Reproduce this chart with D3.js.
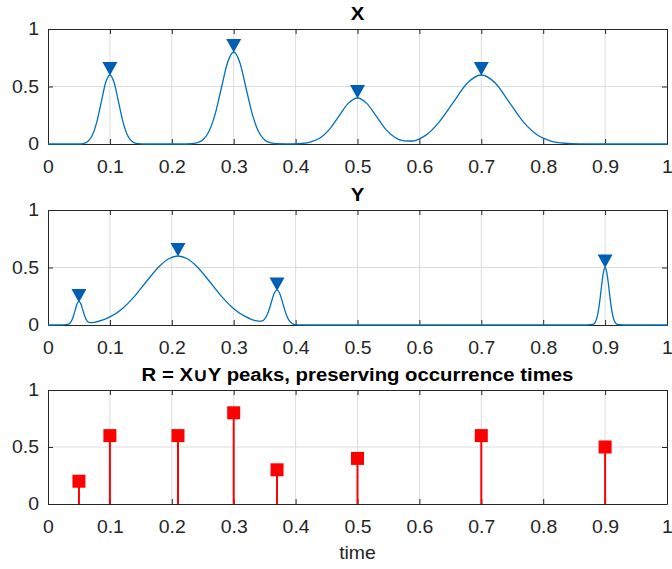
<!DOCTYPE html>
<html>
<head>
<meta charset="utf-8">
<script src="https://cdn.jsdelivr.net/npm/d3@7"></script>
<style>
  html, body { margin: 0; padding: 0; background: #fff; }
  svg { display: block; font-family: "Liberation Sans", Arial, Helvetica, sans-serif; }
</style>
</head>
<body>
<svg id="chart" width="672" height="569"></svg>
<script>
// ---------- data ----------
const xTickValues = [0, 0.1, 0.2, 0.3, 0.4, 0.5, 0.6, 0.7, 0.8, 0.9, 1];
const xTickLabels = ["0", "0.1", "0.2", "0.3", "0.4", "0.5", "0.6", "0.7", "0.8", "0.9", "1"];
const yTickValues = [0, 0.5, 1];
const yTickLabels = ["0", "0.5", "1"];

// signal X (time, amplitude)
const xTime = [0, 0.05, 0.058, 0.065, 0.072, 0.079, 0.086, 0.093, 0.1, 0.107, 0.114, 0.121, 0.128, 0.135, 0.142, 0.16,
  0.22, 0.23, 0.24, 0.25, 0.26, 0.27, 0.28, 0.29, 0.3, 0.31, 0.32, 0.33, 0.34, 0.35, 0.36, 0.37,
  0.385, 0.395, 0.41, 0.425, 0.44, 0.455, 0.47, 0.485, 0.5, 0.515, 0.53, 0.545, 0.56, 0.575, 0.59, 0.6, 0.61,
  0.6325, 0.655, 0.6775, 0.7, 0.7225, 0.745, 0.7675, 0.79, 0.8125, 0.835, 0.86, 0.9, 1];
const xValue = [0, 0, 0.005, 0.026, 0.081, 0.195, 0.364, 0.53, 0.6, 0.53, 0.364, 0.195, 0.081, 0.026, 0.005, 0,
  0, 0.002, 0.009, 0.035, 0.108, 0.26, 0.485, 0.706, 0.8, 0.706, 0.485, 0.26, 0.108, 0.035, 0.009, 0.002,
  0.001, 0.001, 0.0044, 0.018, 0.054, 0.13, 0.243, 0.353, 0.4, 0.353, 0.244, 0.132, 0.059, 0.028, 0.026, 0.045, 0.075,
  0.195, 0.364, 0.53, 0.6, 0.53, 0.364, 0.195, 0.081, 0.026, 0.0067, 0.001, 0, 0];

// signal Y (time, amplitude)
const yTime = [0, 0.025, 0.032, 0.038, 0.041, 0.044, 0.047, 0.05, 0.053, 0.056, 0.059, 0.062, 0.065, 0.068, 0.075,
  0.09, 0.1, 0.12, 0.14, 0.16, 0.18, 0.195, 0.21, 0.225, 0.24, 0.26, 0.28, 0.3, 0.32, 0.335,
  0.345, 0.35, 0.355, 0.36, 0.365, 0.37, 0.375, 0.38, 0.385, 0.39, 0.395, 0.4, 0.41, 0.43,
  0.86, 0.88, 0.885, 0.8875, 0.89, 0.8925, 0.895, 0.8975, 0.9, 0.9025, 0.905, 0.9075, 0.91, 0.9125, 0.915, 0.92, 0.94, 1];
const yValue = [0, 0.0014, 0.0055, 0.036, 0.076, 0.132, 0.184, 0.206, 0.186, 0.136, 0.082, 0.045, 0.026, 0.02, 0.0235,
  0.046, 0.07, 0.142, 0.251, 0.385, 0.511, 0.576, 0.6, 0.576, 0.511, 0.385, 0.251, 0.142, 0.07, 0.038,
  0.033, 0.051, 0.1, 0.183, 0.269, 0.306, 0.266, 0.176, 0.089, 0.035, 0.011, 0.003, 0.0005, 0,
  0, 0.0044, 0.035, 0.079, 0.153, 0.257, 0.372, 0.464, 0.5, 0.464, 0.372, 0.257, 0.153, 0.079, 0.035, 0.0044, 0, 0];

// detected peaks
const xPeakTime = [0.1, 0.3, 0.5, 0.7];
const xPeakValue = [0.6, 0.8, 0.4, 0.6];
const yPeakTime = [0.05, 0.21, 0.37, 0.9];
const yPeakValue = [0.2, 0.6, 0.3, 0.5];

// R = union of peaks
const rTime = [0.05, 0.1, 0.21, 0.3, 0.37, 0.5, 0.7, 0.9];
const rValue = [0.2, 0.6, 0.6, 0.8, 0.3, 0.4, 0.6, 0.5];

const titles = ["X", "Y", "R = X\u222AY peaks, preserving occurrence times"];
const xAxisLabel = "time";

// ---------- layout ----------
const svg = d3.select("#chart");
const left = 48, right = 667;
const panels = [
  { top: 29, bottom: 144 },
  { top: 210, bottom: 325 },
  { top: 390, bottom: 504 }
];
const axisColor = "#262626";
const gridColor = "#dcdcdc";
const lineColor = "#0072BD";
const markerColor = "#005fb5";
const stemColor = "#ff0000";
const fontSize = 18;
const tickStretch = 1.08;   // reference glyphs are slightly wide
const titleStretch = 1.13;

const x = d3.scaleLinear().domain([0, 1]).range([left, right]);

function drawPanel(i) {
  const p = panels[i];
  const y = d3.scaleLinear().domain([0, 1]).range([p.bottom, p.top]);
  const g = svg.append("g");

  // grid
  g.append("g").selectAll("line").data(xTickValues.slice(1, -1)).join("line")
    .attr("x1", d => x(d)).attr("x2", d => x(d))
    .attr("y1", p.top).attr("y2", p.bottom)
    .attr("stroke", gridColor).attr("stroke-width", 1);
  g.append("g").selectAll("line").data(yTickValues.slice(1, -1)).join("line")
    .attr("y1", d => y(d)).attr("y2", d => y(d))
    .attr("x1", left).attr("x2", right)
    .attr("stroke", gridColor).attr("stroke-width", 1);

  const fmtX = (d, k) => xTickLabels[k];
  const fmtY = (d, k) => yTickLabels[k];
  const ax = g.append("g").attr("transform", `translate(0,${p.bottom})`)
    .call(d3.axisBottom(x).tickValues(xTickValues).tickFormat(fmtX).tickSizeInner(-5).tickSizeOuter(0).tickPadding(16));
  const axT = g.append("g").attr("transform", `translate(0,${p.top})`)
    .call(d3.axisTop(x).tickValues(xTickValues).tickFormat("").tickSizeInner(-5).tickSizeOuter(0));
  const ay = g.append("g").attr("transform", `translate(${left},0)`)
    .call(d3.axisLeft(y).tickValues(yTickValues).tickFormat(fmtY).tickSizeInner(-5).tickSizeOuter(0).tickPadding(9));
  const ayR = g.append("g").attr("transform", `translate(${right},0)`)
    .call(d3.axisRight(y).tickValues(yTickValues).tickFormat("").tickSizeInner(-5).tickSizeOuter(0));
  [ax, axT, ay, ayR].forEach(a => {
    a.select(".domain").attr("stroke", axisColor);
    a.selectAll(".tick line").attr("stroke", axisColor);
    a.selectAll(".tick text").attr("fill", axisColor)
      .style("font-size", fontSize + "px").style("font-family", '"Liberation Sans", Arial, sans-serif')
      .attr("transform", `scale(${tickStretch},1)`);
  });
  ax.selectAll(".tick text").attr("dy", "0.71em");
  ay.selectAll(".tick text").attr("x", -9 / tickStretch);

  // title
  svg.append("text")
    .attr("transform", `translate(${(left + right) / 2},${p.top - 9}) scale(${titleStretch},1)`)
    .attr("text-anchor", "middle")
    .attr("font-weight", "bold").attr("font-size", fontSize)
    .attr("fill", "#000")
    .text(titles[i]);
  return { g, y };
}

svg.append("defs").append("clipPath").attr("id", "clip0")
  .append("rect").attr("x", left).attr("y", 0).attr("width", right - left).attr("height", 569);

function drawSignal(panelIndex, times, values, peakTimes, peakValues) {
  const { g, y } = drawPanel(panelIndex);
  const pts = times.map((t, k) => [t, values[k]]);
  g.append("path").datum(pts)
    .attr("d", d3.line().x(d => x(d[0])).y(d => y(d[1])).curve(d3.curveMonotoneX))
    .attr("fill", "none").attr("stroke", lineColor).attr("stroke-width", 1.3)
    .attr("clip-path", "url(#clip0)");
  g.append("g").selectAll("path").data(peakTimes.map((t, k) => [t, peakValues[k]])).join("path")
    .attr("transform", d => `translate(${x(d[0])},${y(d[1])})`)
    .attr("d", "M-7.5,-13 L7.5,-13 L0,0.5 Z")
    .attr("fill", markerColor);
}

drawSignal(0, xTime, xValue, xPeakTime, xPeakValue);
drawSignal(1, yTime, yValue, yPeakTime, yPeakValue);

{
  const { g, y } = drawPanel(2);
  const data = rTime.map((t, k) => [t, rValue[k]]);
  g.append("g").selectAll("line").data(data).join("line")
    .attr("x1", d => x(d[0])).attr("x2", d => x(d[0]))
    .attr("y1", y(0)).attr("y2", d => y(d[1]))
    .attr("stroke", stemColor).attr("stroke-width", 2);
  g.append("g").selectAll("rect").data(data).join("rect")
    .attr("x", d => x(d[0]) - 6.5).attr("y", d => y(d[1]) - 6.5)
    .attr("width", 13).attr("height", 13)
    .attr("fill", stemColor);
  svg.append("text")
    .attr("transform", `translate(${(left + right) / 2},559) scale(${tickStretch},1)`)
    .attr("text-anchor", "middle")
    .attr("font-size", fontSize).attr("fill", axisColor)
    .text(xAxisLabel);
}
</script>
</body>
</html>
